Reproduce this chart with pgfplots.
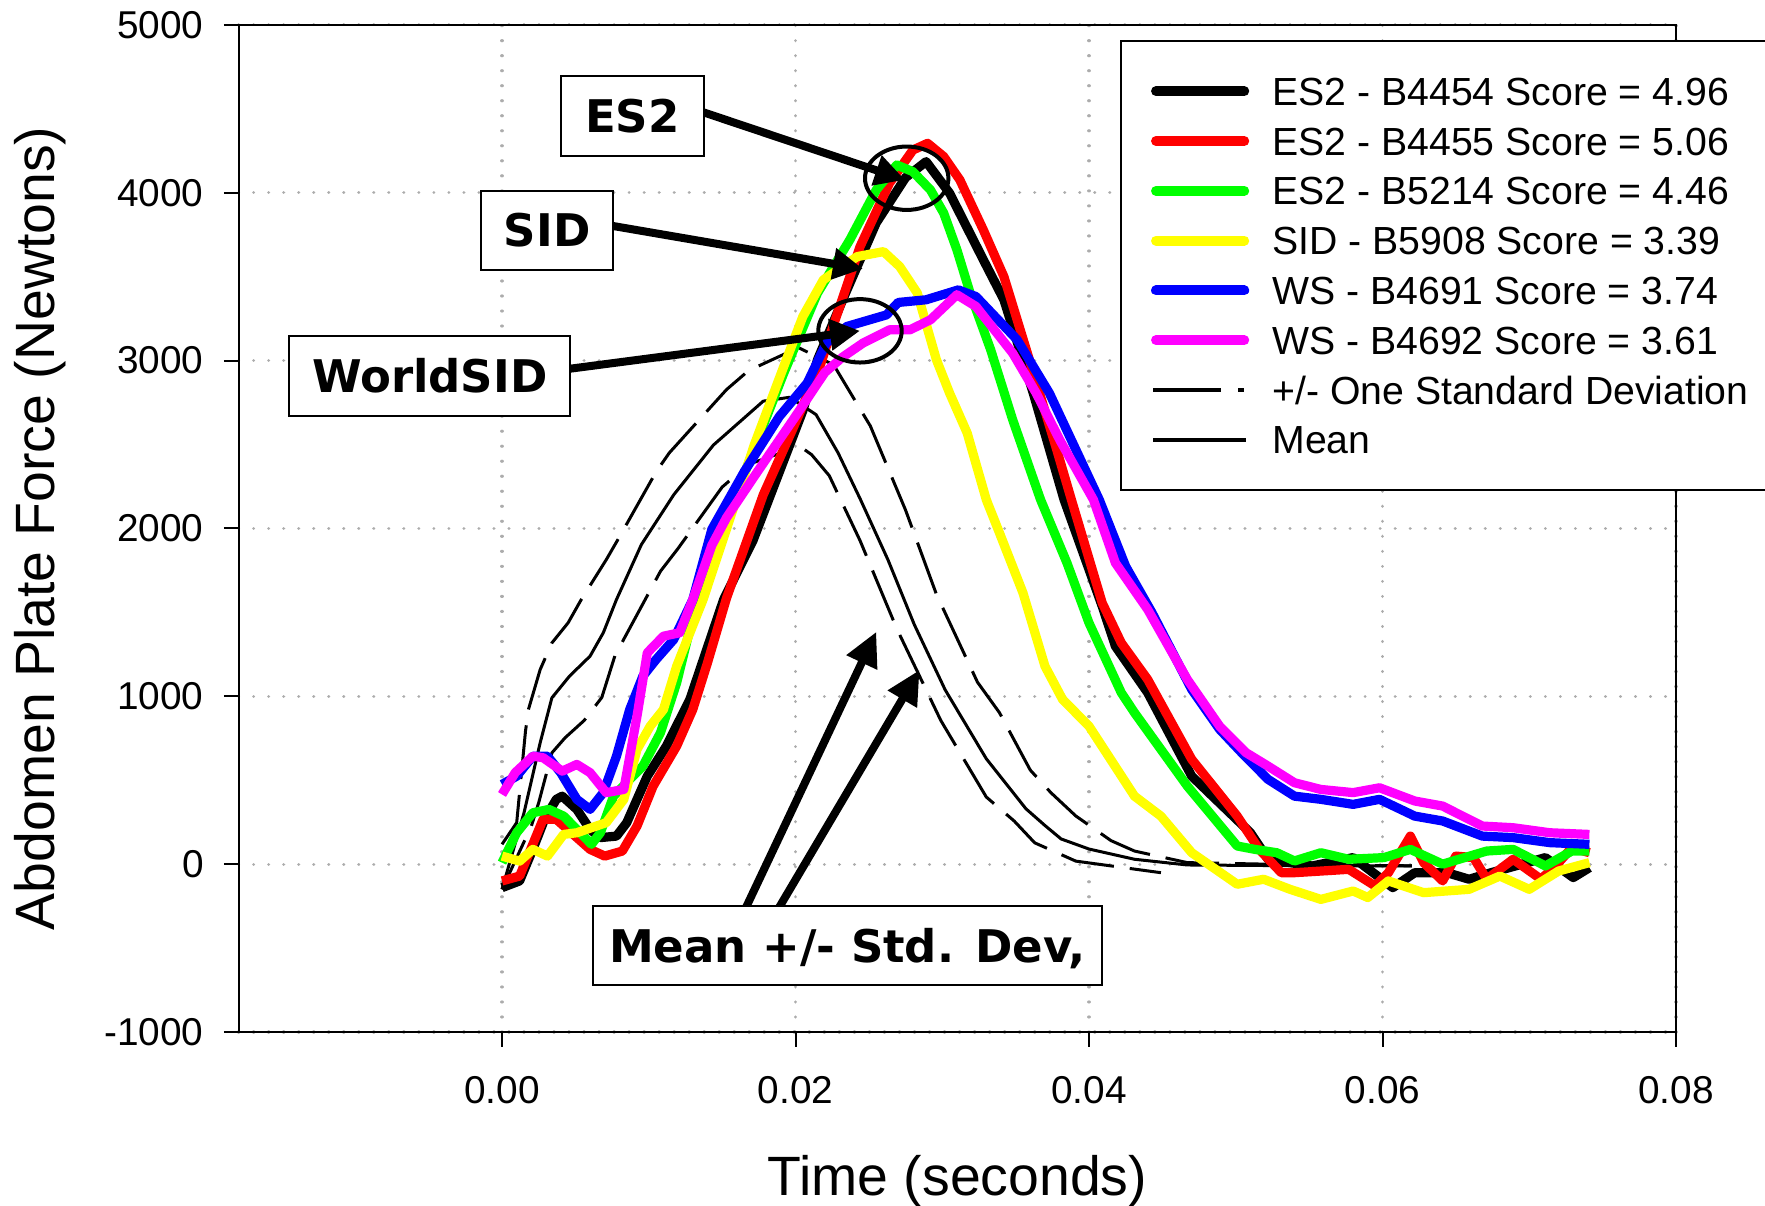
\documentclass[border=0pt]{standalone}
\usepackage{pgfplots}
\pgfplotsset{compat=1.18}
\usepackage{fontspec}
\setmainfont{Liberation Sans}
\newfontfamily\annfont{DejaVu Sans}
\usetikzlibrary{arrows.meta}
\pgfplotsset{
  colleg/.style={legend image code/.code={\path (0pt,0pt) (49pt,0pt);\draw[##1, line width=5pt, line cap=round] (2.5pt,0pt) -- (46.6pt,0pt);}},
  sdleg/.style={legend image code/.code={\path (0pt,0pt) (49pt,0pt);\draw[black, line width=2pt, dash pattern=on 34pt off 8.5pt on 3pt off 20pt] (1pt,0pt) -- (49pt,0pt);}},
  meanleg/.style={legend image code/.code={\path (0pt,0pt) (49pt,0pt);\draw[black, line width=2pt] (1pt,0pt) -- (47.4pt,0pt);}},
  thinline/.style={black, line width=1.5pt, line join=round},
  sdline/.style={black, line width=1.5pt, line join=round, dash pattern=on 27pt off 8pt},
  colline/.style={line width=4.6pt, line join=round},
}
\definecolor{cgreen}{RGB}{0,255,0}
\definecolor{cyellow}{RGB}{255,255,0}
\definecolor{cmag}{RGB}{255,0,255}
\definecolor{cblue}{RGB}{0,0,255}
\definecolor{cred}{RGB}{255,0,0}
\begin{document}
\begin{tikzpicture}
\begin{axis}[
  name=ax,
  scale only axis, width=718.7pt, height=503.6pt,
  xmin=-0.01795, xmax=0.08, ymin=-1000, ymax=5000,
  scaled x ticks=false, scaled y ticks=false,
  xtick={0,0.02,0.04,0.06,0.08}, xticklabels={0.00,0.02,0.04,0.06,0.08},
  ytick={-1000,0,1000,2000,3000,4000,5000}, yticklabels={-1000,0,1000,2000,3000,4000,5000},
  tick pos=left, tick align=outside, major tick length=7.3pt,
  every tick/.style={black, line width=1pt},
  axis line style={line width=1pt},
  grid=major,
  major grid style={gray!65, line width=1.6pt, dash pattern=on 0.01pt off 7.5pt, line cap=round},
  ticklabel style={font=\fontsize{19.4}{22}\selectfont},
  yticklabel style={anchor=east, inner sep=0pt, xshift=-10pt},
  xticklabel style={anchor=north, inner sep=0pt, yshift=-14.6pt},
  xlabel={Time (seconds)}, ylabel={Abdomen Plate Force (Newtons)},
  every axis x label/.style={at={(axis description cs:0.5,-0.1221)}, anchor=north, inner sep=0pt, font=\fontsize{27.7}{32}\selectfont},
  every axis y label/.style={at={(axis description cs:-0.1565,0.5)}, rotate=90, anchor=north, inner sep=0pt, font=\fontsize{27.7}{32}\selectfont},
  legend cell align=left,
  legend style={at={(rel axis cs:0.6135,0.985)}, anchor=north west, draw=black, line width=1pt, fill=white,
    inner xsep=12.5pt, inner ysep=12.7pt, row sep=0pt, column sep=9.4pt,
    font=\fontsize{19.6}{22}\selectfont,
    nodes={inner sep=0pt, text height=19.45pt, text depth=5.45pt}},
]
% standard deviation corridor and mean (drawn beneath)
\addplot[sdline, forget plot] coordinates {(0,118)(0.001,247)(0.0016,792)(0.0018,921)(0.0026,1159)(0.0034,1318)(0.0045,1437)(0.0054,1576)(0.0071,1813)(0.008,1949)(0.0105,2337)(0.0114,2450)(0.0153,2827)(0.0168,2940)(0.0202,3077)(0.0226,2974)(0.0251,2610)(0.0275,2109)(0.0296,1608)(0.0324,1084)(0.0339,902)(0.036,560)(0.0374,426)(0.0391,287)(0.0415,140)(0.0431,78)(0.0467,9)(0.055,-5)(0.062,-10)};
\addplot[sdline, forget plot] coordinates {(0,-150)(0.002,227)(0.0025,366)(0.0034,663)(0.0043,753)(0.0056,856)(0.0068,993)(0.0077,1243)(0.0108,1745)(0.012,1881)(0.015,2246)(0.0168,2382)(0.0203,2489)(0.0211,2439)(0.0223,2314)(0.0244,1927)(0.0269,1403)(0.0299,856)(0.033,400)(0.0349,257)(0.0363,127)(0.0391,18)(0.0449,-51)};
\addplot[thinline, forget plot] coordinates {(0,-150)(0.0015,306)(0.0026,723)(0.0034,991)(0.0046,1120)(0.006,1239)(0.0069,1378)(0.0078,1576)(0.0095,1904)(0.0117,2200)(0.0144,2496)(0.0178,2758)(0.0196,2781)(0.0214,2678)(0.0229,2450)(0.0244,2177)(0.0263,1813)(0.0281,1426)(0.0302,1038)(0.033,628)(0.0357,330)(0.037,230)(0.0381,150)(0.04,90)(0.0431,29)(0.0467,-5)(0.055,-10)(0.062,-10)};
% ES2 - B4454
\addplot[colline, black, colleg] coordinates {(0,-140)(0.0012,-100)(0.0021,88)(0.0029,267)(0.0037,386)(0.0041,405)(0.0051,326)(0.006,207)(0.0067,158)(0.0078,167)(0.0085,247)(0.0092,386)(0.0099,524)(0.0112,703)(0.0128,981)(0.0151,1576)(0.0171,1927)(0.0196,2496)(0.0205,2701)(0.0215,3005)(0.0235,3420)(0.0255,3820)(0.0275,4090)(0.0289,4185)(0.0305,3997)(0.0328,3600)(0.0342,3362)(0.0362,2806)(0.0383,2171)(0.0409,1536)(0.0418,1298)(0.044,1021)(0.047,524)(0.051,187)(0.0522,29)(0.0552,-11)(0.058,39)(0.0607,-140)(0.0622,-51)(0.0644,-51)(0.0659,-90)(0.0674,-51)(0.0711,39)(0.073,-80)(0.0741,-21)};
\addlegendentry{ES2 - B4454 Score = 4.96}
% ES2 - B4455
\addplot[colline, cred, colleg] coordinates {(0,-100)(0.0012,-71)(0.0028,267)(0.0037,267)(0.006,88)(0.007,48)(0.0082,78)(0.0092,227)(0.0103,465)(0.0119,703)(0.013,921)(0.014,1199)(0.0153,1585)(0.0178,2200)(0.0199,2610)(0.0217,2975)(0.0224,3163)(0.0244,3679)(0.0264,4056)(0.028,4254)(0.029,4294)(0.0301,4215)(0.0312,4076)(0.0328,3778)(0.0342,3500)(0.0358,3044)(0.0378,2469)(0.0388,2171)(0.0409,1556)(0.0422,1318)(0.044,1100)(0.047,624)(0.0501,286)(0.0516,88)(0.0531,-51)(0.054,-51)(0.0577,-31)(0.0595,-130)(0.0604,-51)(0.0619,167)(0.0628,9)(0.0641,-100)(0.065,48)(0.0662,39)(0.0671,-90)(0.0689,29)(0.0708,-90)(0.072,9)(0.0729,98)(0.0741,68)};
\addlegendentry{ES2 - B4455 Score = 5.06}
% ES2 - B5214
\addplot[colline, cgreen, colleg] coordinates {(0,9)(0.001,187)(0.0021,306)(0.0032,326)(0.0042,286)(0.0051,207)(0.0061,118)(0.0067,187)(0.0076,405)(0.0087,505)(0.0096,584)(0.0108,783)(0.0119,1080)(0.0133,1576)(0.015,1980)(0.0172,2480)(0.0192,2925)(0.0215,3402)(0.0237,3719)(0.0255,4016)(0.0269,4165)(0.028,4125)(0.0292,4016)(0.0301,3878)(0.031,3659)(0.0319,3402)(0.0333,3064)(0.0348,2647)(0.0367,2171)(0.0385,1794)(0.04,1437)(0.0422,1021)(0.0431,902)(0.0467,465)(0.0501,108)(0.0513,88)(0.0528,68)(0.054,19)(0.0558,68)(0.0577,29)(0.0601,39)(0.0619,88)(0.0641,0)(0.0671,78)(0.0689,88)(0.0711,-11)(0.0729,78)(0.0741,78)};
\addlegendentry{ES2 - B5214 Score = 4.46}
% SID - B5908
\addplot[colline, cyellow, colleg] coordinates {(0,48)(0.0012,18)(0.0021,88)(0.0031,48)(0.0042,177)(0.0051,187)(0.0071,247)(0.0083,386)(0.0092,683)(0.0101,822)(0.011,921)(0.0119,1179)(0.0137,1576)(0.0155,2050)(0.0172,2500)(0.0192,2965)(0.0205,3262)(0.0219,3481)(0.0242,3619)(0.026,3649)(0.0271,3560)(0.0283,3402)(0.0296,3005)(0.0305,2806)(0.0317,2568)(0.033,2171)(0.0339,1973)(0.0355,1616)(0.037,1179)(0.0382,981)(0.04,822)(0.0431,405)(0.0449,286)(0.047,68)(0.0501,-120)(0.0519,-90)(0.0537,-150)(0.0558,-210)(0.058,-160)(0.059,-199)(0.0604,-100)(0.0628,-170)(0.0659,-150)(0.068,-71)(0.07,-150)(0.072,-41)(0.0741,9)};
\addlegendentry{SID - B5908 Score = 3.39}
% WS - B4691
\addplot[colline, cblue, colleg] coordinates {(0,475)(0.001,524)(0.0021,643)(0.0031,643)(0.004,545)(0.0051,386)(0.006,326)(0.0069,426)(0.0078,643)(0.0087,921)(0.0096,1120)(0.0105,1219)(0.0117,1338)(0.013,1576)(0.0143,1995)(0.0165,2337)(0.0189,2667)(0.0208,2866)(0.0221,3104)(0.0235,3203)(0.0262,3272)(0.027,3346)(0.0289,3362)(0.0311,3421)(0.0323,3381)(0.0351,3124)(0.0373,2806)(0.0407,2171)(0.0425,1774)(0.0443,1497)(0.047,1040)(0.0489,803)(0.0504,664)(0.0522,505)(0.054,405)(0.0558,386)(0.058,356)(0.0598,386)(0.0622,286)(0.0641,257)(0.0668,167)(0.0689,158)(0.0714,128)(0.0741,118)};
\addlegendentry{WS - B4691 Score = 3.74}
% WS - B4692
\addplot[colline, cmag, colleg] coordinates {(0,415)(0.0009,545)(0.0021,643)(0.0028,634)(0.0041,554)(0.0051,594)(0.006,545)(0.0071,426)(0.0083,445)(0.0092,882)(0.0099,1259)(0.011,1358)(0.0121,1378)(0.013,1576)(0.0143,1900)(0.0153,2064)(0.0174,2337)(0.0199,2655)(0.022,2929)(0.0232,3020)(0.0246,3104)(0.0264,3183)(0.0278,3183)(0.0292,3243)(0.031,3392)(0.0323,3322)(0.0348,3044)(0.0364,2806)(0.038,2528)(0.0403,2171)(0.0418,1794)(0.044,1517)(0.0467,1100)(0.0489,822)(0.0507,664)(0.0522,584)(0.054,485)(0.0558,445)(0.058,426)(0.0598,455)(0.0622,376)(0.0641,346)(0.0668,227)(0.0689,217)(0.0714,187)(0.0741,177)};
\addlegendentry{WS - B4692 Score = 3.61}
\addlegendimage{sdleg}
\addlegendentry{+/- One Standard Deviation\hspace{20pt}}
\addlegendimage{meanleg}
\addlegendentry{Mean}
% annotations
\draw[line width=4pt, -{Triangle[length=15pt,width=15pt]}] (axis cs:0.0130,4500) -- (axis cs:0.02746,4076);
\draw[line width=4pt, -{Triangle[length=15pt,width=15pt]}] (axis cs:0.0070,3810) -- (axis cs:0.0246,3546);
\draw[line width=4pt, -{Triangle[length=15pt,width=15pt]}] (axis cs:0.0040,2944) -- (axis cs:0.024395,3177);
\draw[line width=4pt, -{Triangle[length=17pt,width=16pt]}] (axis cs:0.0164,-300) -- (axis cs:0.025506,1384);
\draw[line width=4pt, -{Triangle[length=17pt,width=16pt]}] (axis cs:0.0186,-300) -- (axis cs:0.028457,1157);
\draw[line width=2pt] (axis cs:0.027578,4086) ellipse [x radius=20.85pt, y radius=15.85pt];
\draw[line width=2pt] (axis cs:0.024395,3177) ellipse [x radius=20.85pt, y radius=15.85pt];
\tikzset{annbox/.style={draw=black, line width=1pt, fill=white, inner sep=0pt, text height=16.4pt, text depth=0pt, font=\annfont\bfseries\fontsize{22.5}{24}\selectfont}}
\node[annbox, minimum width=71.3pt, minimum height=40pt] at (axis cs:0.008885,4457) {ES2};
\node[annbox, minimum width=66.2pt, minimum height=39.7pt] at (axis cs:0.00308,3776) {SID};
\node[annbox, minimum width=140.7pt, minimum height=39.7pt] at (axis cs:-0.004927,2909) {WorldSID};
\node[annbox, minimum width=254.5pt, minimum height=39.5pt] at (axis cs:0.023543,-486) {Mean +/- Std. Dev,};
\end{axis}
\pgfresetboundingbox
\path ([shift={(-119.3pt,-86.5pt)}]ax.south west) rectangle ([shift={(763.2pt,516pt)}]ax.south west);
\end{tikzpicture}
\end{document}
